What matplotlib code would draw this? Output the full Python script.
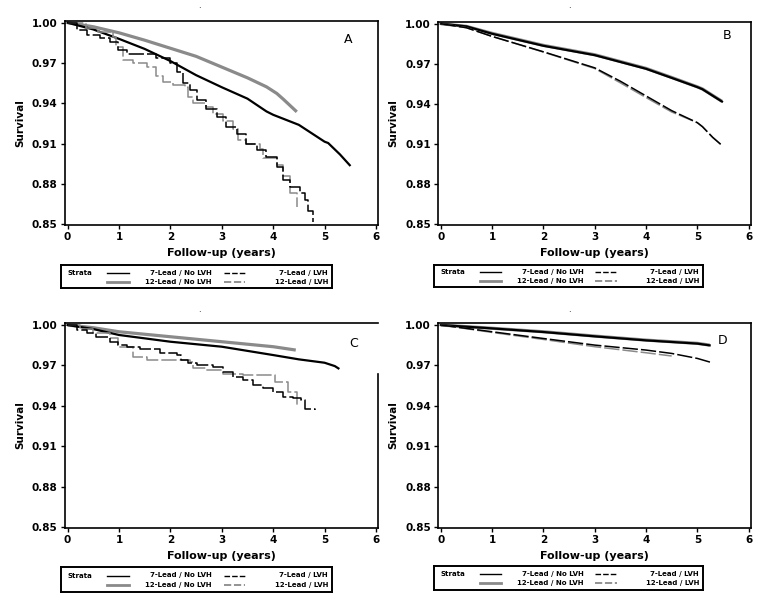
import matplotlib
matplotlib.use('Agg')
import matplotlib.pyplot as plt

# ---- data (follow-up years, survival) ----

# panel A
a_7n_t = [0, 0.5, 1.0, 1.5, 2.0, 2.5, 3.0, 3.5, 3.87, 4.0, 4.5, 5.0, 5.07, 5.3, 5.49]
a_7n_s = [1.0, 0.995, 0.988, 0.9805, 0.9715, 0.961, 0.952, 0.9435, 0.934, 0.9315, 0.924, 0.9115,
          0.9105, 0.902, 0.894]
a_12n_t = [0, 0.5, 1.0, 1.5, 2.0, 2.5, 3.0, 3.5, 3.87, 4.07, 4.2, 4.46]
a_12n_s = [1.0, 0.997, 0.9925, 0.987, 0.981, 0.975, 0.967, 0.959, 0.9523, 0.9474, 0.943, 0.9337]
a_7l_t = [0, 0.175, 0.37, 0.63, 0.82, 0.99, 1.15, 1.73, 1.99, 2.12, 2.25, 2.38, 2.51, 2.70,
          2.90, 3.09, 3.29, 3.48, 3.68, 3.87, 4.07, 4.20, 4.33, 4.52, 4.62, 4.68, 4.78]
a_7l_s = [1.0, 0.9945, 0.9908, 0.9888, 0.9858, 0.9796, 0.9767, 0.974, 0.9697, 0.9635, 0.9548, 0.950,
          0.9424, 0.936, 0.930, 0.9225, 0.9175, 0.910, 0.905, 0.900, 0.893, 0.883, 0.878, 0.873,
          0.868, 0.860, 0.852]
a_12l_t = [0, 0.35, 0.60, 0.89, 0.95, 1.08, 1.28, 1.54, 1.73, 1.86, 2.06, 2.28, 2.35, 2.44, 2.70,
           2.83, 3.03, 3.22, 3.32, 3.48, 3.74, 3.81, 4.07, 4.20, 4.33, 4.46]
a_12l_s = [1.0, 0.996, 0.993, 0.9896, 0.982, 0.972, 0.9697, 0.967, 0.960, 0.956, 0.9535, 0.952,
           0.945, 0.940, 0.937, 0.9324, 0.927, 0.921, 0.9125, 0.910, 0.906, 0.899, 0.894, 0.886,
           0.873, 0.863]

# panel B
b_7n_t = [0, 0.5, 1.0, 2.0, 3.0, 4.0, 4.5, 5.0, 5.1, 5.48]
b_7n_s = [1.0, 0.998, 0.9925, 0.9835, 0.9765, 0.9663, 0.9595, 0.9526, 0.951, 0.9418]
b_12n_t = [0, 0.5, 1.0, 2.0, 3.0, 4.0, 4.5, 5.0, 5.1, 5.48]
b_12n_s = [1.0, 0.998, 0.9928, 0.9838, 0.9768, 0.9666, 0.9598, 0.9528, 0.9512, 0.942]
b_7l_t = [0, 0.5, 1.0, 2.0, 3.0, 3.5, 4.0, 4.5, 5.0, 5.1, 5.3, 5.48]
b_7l_s = [1.0, 0.997, 0.9905, 0.979, 0.967, 0.957, 0.946, 0.935, 0.926, 0.923, 0.915, 0.909]
b_12l_t = [0, 0.5, 1.0, 2.0, 3.0, 3.5, 4.0, 4.5, 5.0, 5.1, 5.3, 5.48]
b_12l_s = [1.0, 0.997, 0.9905, 0.9788, 0.9665, 0.9558, 0.9448, 0.934, 0.926, 0.923, 0.915, 0.909]

# panel C
c_7n_t = [0, 0.5, 1.0, 2.0, 3.0, 4.0, 4.5, 5.0, 5.2, 5.27]
c_7n_s = [1.0, 0.997, 0.9926, 0.9876, 0.9839, 0.9777, 0.9745, 0.972, 0.9695, 0.9678]
c_12n_t = [0, 0.5, 1.0, 2.0, 3.0, 4.0, 4.44]
c_12n_s = [1.0, 0.998, 0.995, 0.9913, 0.9876, 0.9839, 0.9814]
c_7l_t = [0, 0.175, 0.37, 0.56, 0.82, 0.99, 1.15, 1.41, 1.80, 2.12, 2.21, 2.35, 2.51, 2.83, 3.03,
          3.22, 3.42, 3.61, 3.81, 4.0, 4.20, 4.39, 4.55, 4.61, 4.81]
c_7l_s = [1.0, 0.9963, 0.9938, 0.9913, 0.9876, 0.9851, 0.984, 0.982, 0.979, 0.9777, 0.974, 0.9715,
          0.970, 0.969, 0.9653, 0.9616, 0.959, 0.9554, 0.9536, 0.9504, 0.9467, 0.946, 0.9442,
          0.938, 0.9368]
c_12l_t = [0, 0.24, 0.50, 0.82, 0.99, 1.28, 1.54, 2.38, 2.44, 2.70, 3.03, 3.42, 4.04, 4.29, 4.46]
c_12l_s = [1.0, 0.9968, 0.9938, 0.990, 0.9839, 0.9764, 0.974, 0.9728, 0.9678, 0.9665, 0.964,
           0.9628, 0.9578, 0.9504, 0.9397]

# panel D
d_7n_t = [0, 1.0, 2.0, 3.0, 4.0, 5.0, 5.24]
d_7n_s = [1.0, 0.9975, 0.9948, 0.9916, 0.9886, 0.9862, 0.9849]
d_12n_t = [0, 1.0, 2.0, 3.0, 4.0, 5.0, 5.24]
d_12n_s = [1.0, 0.9976, 0.995, 0.9918, 0.9888, 0.9864, 0.9851]
d_7l_t = [0, 1.0, 2.0, 3.0, 4.0, 4.5, 5.0, 5.27]
d_7l_s = [1.0, 0.995, 0.990, 0.9851, 0.9814, 0.9789, 0.9752, 0.9722]
d_12l_t = [0, 1.0, 2.0, 3.0, 4.0, 4.5]
d_12l_s = [1.0, 0.9945, 0.9893, 0.9839, 0.9794, 0.977]

panel_names = ['A', 'B', 'C', 'D']
strata = ['7-Lead / No LVH', '12-Lead / No LVH', '7-Lead / LVH', '12-Lead / LVH']
yticks = [0.85, 0.88, 0.91, 0.94, 0.97, 1.00]
xticks = [0, 1, 2, 3, 4, 5, 6]

GRAY = '#8a8a8a'
DASH = (0, (10, 2))
FONT = 'DejaVu Sans'

W, H = 769, 600
fig = plt.figure(figsize=(W / 100, H / 100), dpi=100)

# axes boxes in pixels: left, top, right, bottom
boxes = [(64.5, 20.7, 378, 225), (437.7, 21.7, 750.7, 225),
         (64.5, 323, 378, 527.7), (437.7, 323, 750.7, 527.7)]
leg_boxes = [(61, 265, 332, 288), (434, 265, 703, 287),
             (61, 567, 332, 592), (434, 566, 703, 590)]
letter_pos = [(0.904, 0.91), (0.924, 0.93), (0.923, 0.90), (0.911, 0.916)]
dot_pos = [(199, 6), (569, 6), (199, 309), (569, 309)]

curves = [
    (a_7n_t, a_7n_s, a_12n_t, a_12n_s, a_7l_t, a_7l_s, a_12l_t, a_12l_s, True),
    (b_7n_t, b_7n_s, b_12n_t, b_12n_s, b_7l_t, b_7l_s, b_12l_t, b_12l_s, False),
    (c_7n_t, c_7n_s, c_12n_t, c_12n_s, c_7l_t, c_7l_s, c_12l_t, c_12l_s, True),
    (d_7n_t, d_7n_s, d_12n_t, d_12n_s, d_7l_t, d_7l_s, d_12l_t, d_12l_s, False),
]


def frac(box):
    l, t, r, b = box
    return [l / W, 1 - b / H, (r - l) / W, (b - t) / H]


for i, name in enumerate(panel_names):
    ax = fig.add_axes(frac(boxes[i]))
    t7n, s7n, t12n, s12n, t7l, s7l, t12l, s12l, stepped = curves[i]
    ds = 'steps-post' if stepped else 'default'

    ax.plot(t12n, s12n, color=GRAY, lw=2.3, solid_capstyle='butt')
    ax.plot(t7n, s7n, color='black', lw=1.6)
    ax.plot(t12l, s12l, color=GRAY, lw=1.1, ls=DASH, drawstyle=ds)
    ax.plot(t7l, s7l, color='black', lw=1.1, ls=DASH, drawstyle=ds)

    ax.set_xlim(-0.06, 6.04)
    ax.set_ylim(0.8495, 1.0015)
    ax.set_xticks(xticks)
    ax.set_yticks(yticks)
    ax.set_xticklabels([str(x) for x in xticks], fontsize=7.5, fontweight='bold', family=FONT)
    ax.set_yticklabels(['%.2f' % y for y in yticks], fontsize=7.5, fontweight='bold', family=FONT)
    ax.tick_params(direction='out', length=3, width=1, pad=2)
    for sp in ax.spines.values():
        sp.set_linewidth(1.2)
    if name == 'C':
        ax.spines['right'].set_bounds(0.8495, 0.964)

    ax.set_xlabel('Follow-up (years)', fontsize=8, fontweight='bold', family=FONT)
    ax.xaxis.set_label_coords(0.5, -0.115)
    ax.set_ylabel('Survival', fontsize=7.5, fontweight='bold', family=FONT)
    ax.yaxis.set_label_coords(-0.125, 0.5)

    ax.text(letter_pos[i][0], letter_pos[i][1], name, transform=ax.transAxes,
            fontsize=9, ha='center', va='center', family=FONT)
    fig.text(dot_pos[i][0] / W, 1 - dot_pos[i][1] / H, '.', fontsize=6,
             ha='center', va='center')

    # legend box
    lg = fig.add_axes(frac(leg_boxes[i]))
    lg.set_xlim(0, 1)
    lg.set_ylim(0, 1)
    lg.set_xticks([])
    lg.set_yticks([])
    for sp in lg.spines.values():
        sp.set_linewidth(1.4)
    lg.text(0.025, 0.66, 'Strata', fontsize=5, fontweight='bold', va='center', family=FONT)
    lg.plot([0.17, 0.25], [0.66, 0.66], color='black', lw=1.0)
    lg.plot([0.17, 0.25], [0.28, 0.28], color=GRAY, lw=2.0)
    lg.plot([0.60, 0.68], [0.66, 0.66], color='black', lw=1.0, ls=(0, (4, 1.5)))
    lg.plot([0.60, 0.68], [0.28, 0.28], color=GRAY, lw=1.3, ls=(0, (4, 1.5)))
    for txt, x, y in [(strata[0], 0.556, 0.66), (strata[1], 0.556, 0.28),
                      (strata[2], 0.985, 0.66), (strata[3], 0.985, 0.28)]:
        lg.text(x, y, txt, fontsize=5, fontweight='bold', ha='right', va='center', family=FONT)

fig.savefig('out.png', dpi=100)
